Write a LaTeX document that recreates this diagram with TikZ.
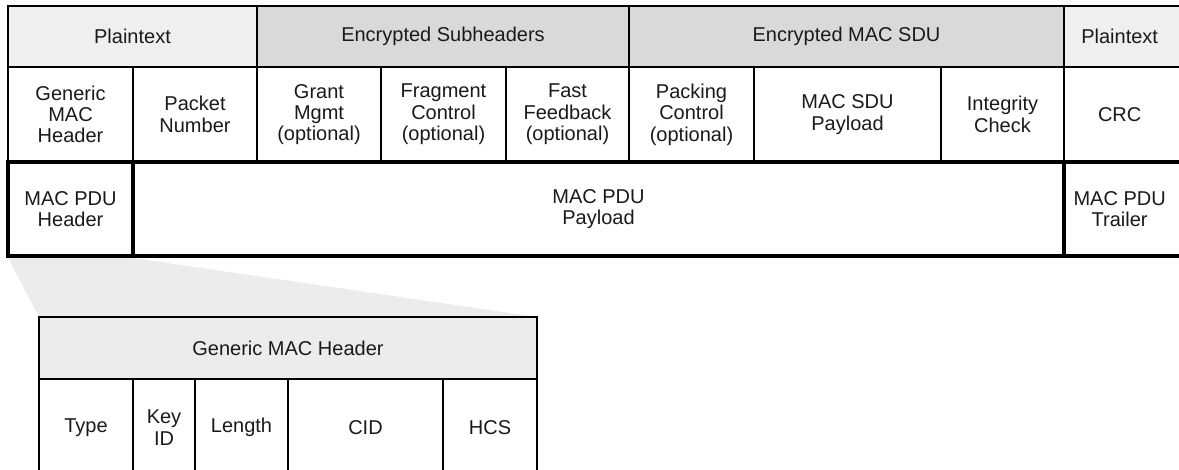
\documentclass[tikz,border=0pt]{standalone}
\usepackage{fontspec}
\setmainfont{Liberation Sans}
\definecolor{plainfill}{HTML}{EFEFEF}
\definecolor{encfill}{HTML}{D9D9D9}
\definecolor{hdrfill}{HTML}{ECECEC}
\definecolor{txt}{HTML}{1A1A1A}
\tikzset{
  cellbox/.style={draw=black, line width=0.9pt, inner sep=0pt, outer sep=0pt,
    align=center, text=txt, font=\fontsize{15}{16}\selectfont},
  thickbox/.style={cellbox, line width=2.6pt},
  zoomfan/.style={fill=hdrfill, draw=none}
}
% #1 name, #2 x1, #3 y1, #4 x2, #5 y2, #6 style, #7 text
\newcommand\cellnode[7]{%
  \node[#6, minimum width={(#4-#2)*0.75pt}, minimum height={(#5-#3)*0.75pt}]
    (#1) at ({(#2+#4)/2},{(#3+#5)/2}) {#7};}
\begin{document}
\begin{tikzpicture}[x=0.75pt,y=-0.75pt]
\useasboundingbox (0,0) rectangle (1179,470);
\clip (0,0) rectangle (1179,470);
\fill[white] (0,0) rectangle (1179,470);
% zoom fan
\path[zoomfan] (8,258) -- (133,258) -- (537,317) -- (39,317) -- cycle;
% row 1
\cellnode{p1}{8}{6}{257}{67}{cellbox,fill=plainfill}{Plaintext}
\cellnode{es}{257}{6}{629}{67}{cellbox,fill=encfill}{Encrypted Subheaders}
\cellnode{em}{629}{6}{1064}{67}{cellbox,fill=encfill}{Encrypted MAC SDU}
\cellnode{p2}{1064}{6}{1190}{67}{cellbox,fill=plainfill}{\hspace*{-11pt}Plaintext}
% row 2
\cellnode{gmh}{8}{67}{133}{162}{cellbox}{Generic\\MAC\\Header}
\cellnode{pn}{133}{67}{257}{162}{cellbox}{Packet\\Number}
\cellnode{gm}{257}{67}{381}{162}{cellbox}{Grant\\Mgmt\\(optional)}
\cellnode{fc}{381}{67}{506}{162}{cellbox}{Fragment\\Control\\(optional)}
\cellnode{ff}{506}{67}{629}{162}{cellbox}{Fast\\Feedback\\(optional)}
\cellnode{pc}{629}{67}{754}{162}{cellbox}{Packing\\Control\\(optional)}
\cellnode{sdu}{754}{67}{941}{162}{cellbox}{MAC SDU\\Payload}
\cellnode{ic}{941}{67}{1064}{162}{cellbox}{Integrity\\Check}
\cellnode{crc}{1064}{67}{1190}{162}{cellbox}{\hspace*{-11pt}CRC}
% row 3
\cellnode{pduh}{8}{162}{133}{256}{thickbox}{MAC PDU\\Header}
\cellnode{pdup}{133}{162}{1064}{256}{thickbox}{MAC PDU\\Payload}
\cellnode{pdut}{1064}{162}{1190}{256}{thickbox}{\hspace*{-11pt}MAC PDU\\\hspace*{-11pt}Trailer}
% generic MAC header detail
\cellnode{gh}{39}{317}{537}{379}{cellbox,fill=hdrfill}{Generic MAC Header}
\cellnode{ty}{39}{379}{133}{476}{cellbox}{Type}
\cellnode{kid}{133}{379}{195}{476}{cellbox}{Key\\ID}
\cellnode{len}{195}{379}{288}{476}{cellbox}{Length}
\cellnode{cid}{288}{379}{443}{476}{cellbox}{CID}
\cellnode{hcs}{443}{379}{537}{476}{cellbox}{HCS}
\end{tikzpicture}
\end{document}
